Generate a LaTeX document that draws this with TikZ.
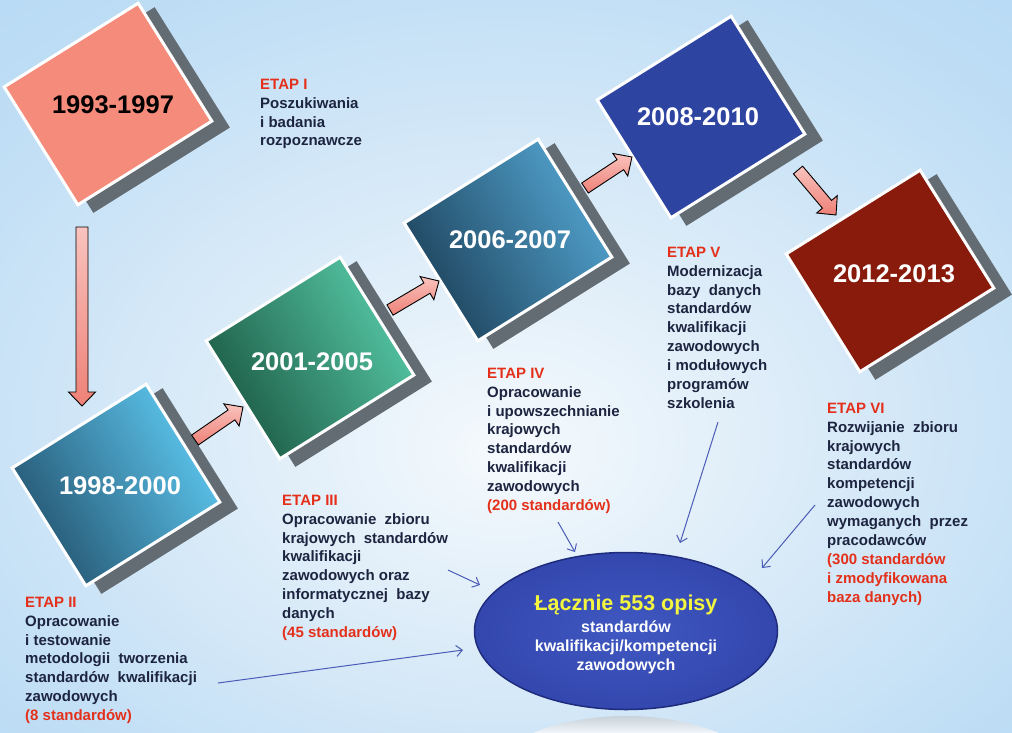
\documentclass[tikz,border=0pt]{standalone}
\usepackage{fontspec}
\setmainfont{Liberation Sans}
\usetikzlibrary{calc,shapes.geometric,arrows.meta}
\definecolor{etapred}{HTML}{E4301A}
\definecolor{navytext}{HTML}{1D2440}
\definecolor{shadowgray}{HTML}{646C73}
\definecolor{b1col}{HTML}{F58B7B}
\definecolor{b2dark}{HTML}{245470}
\definecolor{b2light}{HTML}{5DC7EF}
\definecolor{b3dark}{HTML}{1C5A45}
\definecolor{b3light}{HTML}{55C7A4}
\definecolor{b4dark}{HTML}{1D425B}
\definecolor{b4light}{HTML}{52A3CF}
\definecolor{b5col}{HTML}{2D44A1}
\definecolor{b6col}{HTML}{891B0C}
\definecolor{arrlight}{HTML}{F9C3BE}
\definecolor{arrdark}{HTML}{EE8177}
\definecolor{thinblue}{HTML}{4B5CB7}
\definecolor{ellin}{HTML}{4058C2}
\definecolor{ellout}{HTML}{26369A}
\definecolor{ellborder}{HTML}{1F2C7E}
\definecolor{yel}{HTML}{F3F53E}
\definecolor{bg0}{HTML}{F5FAFD}
\definecolor{bg1}{HTML}{E0EEF9}
\definecolor{bg2}{HTML}{BEDDF5}
\definecolor{bg3}{HTML}{A4D1F3}
\definecolor{reflc}{HTML}{C9D2DA}
\definecolor{reflb}{HTML}{EEF4F9}
\pgfdeclareradialshading{bgshade}{\pgfpoint{0bp}{-6bp}}{color(0bp)=(bg0); color(12bp)=(bg1); color(32bp)=(bg2); color(62bp)=(bg3)}
\pgfdeclareradialshading{ellshade}{\pgfpoint{0bp}{0bp}}{color(0bp)=(ellin); color(50bp)=(ellout)}
\newcommand\etred[1]{\textcolor{etapred}{#1}}
\begin{document}
\begin{tikzpicture}[x=1pt,y=-1pt,
  yearbox/.style={rectangle, rotate=32, minimum width=158pt, minimum height=139pt, draw=white, line width=3pt, inner sep=0pt},
  gradbox/.style 2 args={yearbox, top color=#1, bottom color=#2, shading angle=120},
  boxshadow/.style={rectangle, rotate=32, minimum width=161pt, minimum height=142pt, fill=shadowgray, inner sep=0pt},
  yeartext/.style={inner sep=0pt, text=white, font=\fontsize{25.5}{28}\selectfont\bfseries},
  etap/.style={anchor=north west, inner sep=0pt, align=left, text=navytext, font=\fontsize{15}{18.9}\selectfont\bfseries},
  thinarrow/.style={draw=thinblue, line width=1pt, -{Straight Barb[length=6pt,width=11pt]}},
  blockarrow/.style={draw=black, line width=0.9pt, top color=arrlight, bottom color=arrdark,
    to path={
      ($(\tikztostart)!6pt!90:(\tikztotarget)$)
      -- ($(\tikztotarget)!14pt!(\tikztostart)!6pt!-90:(\tikztostart)$)
      -- ($(\tikztotarget)!14pt!(\tikztostart)!13.5pt!-90:(\tikztostart)$)
      -- (\tikztotarget)
      -- ($(\tikztotarget)!14pt!(\tikztostart)!13.5pt!90:(\tikztostart)$)
      -- ($(\tikztotarget)!14pt!(\tikztostart)!6pt!90:(\tikztostart)$)
      -- ($(\tikztostart)!6pt!-90:(\tikztotarget)$)
      -- cycle}}
]
\useasboundingbox (0,0) rectangle (1012,732);
\shade[shading=bgshade] (0,0) rectangle (1012,732);
% reflection under the ellipse
\begin{scope}
  \clip (626,795) ellipse [x radius=150pt, y radius=79pt];
  \shade[top color=reflc, bottom color=reflb] (470,716) rectangle (785,732);
\end{scope}

% shadows
\node[boxshadow] (s1) at (124,110) {};
\node[boxshadow] (s2) at (132,491) {};
\node[boxshadow] (s3) at (326,364) {};
\node[boxshadow] (s4) at (524,246) {};
\node[boxshadow] (s5) at (717,123) {};
\node[boxshadow] (s6) at (906,277) {};

% boxes
\node[yearbox, fill=b1col] (b1) at (108,104) {};
\node[gradbox={b2dark}{b2light}] (b2) at (116,485) {};
\node[gradbox={b3dark}{b3light}] (b3) at (310,358) {};
\node[gradbox={b4dark}{b4light}] (b4) at (508,240) {};
\node[yearbox, fill=b5col] (b5) at (701,117) {};
\node[yearbox, fill=b6col] (b6) at (890,271) {};

\node[yeartext, text=black] (t1) at (113,105) {1993-1997};
\node[yeartext] (t2) at (120,486) {1998-2000};
\node[yeartext] (t3) at (312,362) {2001-2005};
\node[yeartext] (t4) at (510,240) {2006-2007};
\node[yeartext] (t5) at (698,117) {2008-2010};
\node[yeartext] (t6) at (894,274) {2012-2013};

% block arrows
\coordinate (a1s) at (82,227);  \coordinate (a1e) at (82,406);
\coordinate (a2s) at (195,440); \coordinate (a2e) at (243,407);
\coordinate (a3s) at (390,310); \coordinate (a3e) at (439,281);
\coordinate (a4s) at (585,188); \coordinate (a4e) at (632,157);
\coordinate (a5s) at (798,170); \coordinate (a5e) at (836,215);
\draw[blockarrow] (a1s) to (a1e);
\draw[blockarrow] (a2s) to (a2e);
\draw[blockarrow] (a3s) to (a3e);
\draw[blockarrow] (a4s) to (a4e);
\draw[blockarrow] (a5s) to (a5e);

% stage texts
\node[etap] (e1) at (260,77) {\rule{0pt}{12pt}\etred{ETAP I}\\Poszukiwania\\i badania\\rozpoznawcze};
\node[etap] (e2) at (25,595) {\rule{0pt}{12pt}\etred{ETAP II}\\Opracowanie\\i testowanie\\metodologii\ \ tworzenia\\standardów\ \ kwalifikacji\\zawodowych\\\etred{(8 standardów)}};
\node[etap] (e3) at (282,493) {\rule{0pt}{12pt}\etred{ETAP III}\\Opracowanie\ \ zbioru\\krajowych\ \ standardów\\kwalifikacji\\zawodowych oraz\\informatycznej\ \ bazy\\danych\\\etred{(45 standardów)}};
\node[etap] (e4) at (487,366) {\rule{0pt}{12pt}\etred{ETAP IV}\\Opracowanie\\i upowszechnianie\\krajowych\\standardów\\kwalifikacji\\zawodowych\\\etred{(200 standardów)}};
\node[etap] (e5) at (667,245) {\rule{0pt}{12pt}\etred{ETAP V}\\Modernizacja\\bazy\ \ danych\\standardów\\kwalifikacji\\zawodowych\\i modułowych\\programów\\szkolenia};
\node[etap] (e6) at (827,401) {\rule{0pt}{12pt}\etred{ETAP VI}\\Rozwijanie\ \ zbioru\\krajowych\\standardów\\kompetencji\\zawodowych\\wymaganych\ \ przez\\pracodawców\\\etred{(300 standardów}\\\etred{i zmodyfikowana}\\\etred{baza danych)}};

% thin arrows
\coordinate (c2s) at (218,683); \coordinate (c2e) at (463,650);
\coordinate (c3s) at (448,570); \coordinate (c3e) at (480,585);
\coordinate (c4s) at (558,522); \coordinate (c4e) at (575,552);
\coordinate (c5s) at (718,422); \coordinate (c5e) at (680,543);
\coordinate (c6s) at (815,505); \coordinate (c6e) at (762,568);
\draw[thinarrow] (c2s) -- (c2e);
\draw[thinarrow] (c3s) -- (c3e);
\draw[thinarrow] (c4s) -- (c4e);
\draw[thinarrow] (c5s) -- (c5e);
\draw[thinarrow] (c6s) -- (c6e);

% summary ellipse
\node[ellipse, shade, shading=ellshade, draw=ellborder, line width=1.5pt,
  minimum width=303pt, minimum height=157pt, inner sep=0pt, align=center,
  text=white, font=\fontsize{16}{19}\selectfont\bfseries] (sum) at (626,631)
  {{\fontsize{21.5}{22}\selectfont\color{yel}\rule{0pt}{21.7pt}Łącznie 553 opisy}\\[3pt]standardów\\kwalifikacji/kompetencji\\zawodowych};
\end{tikzpicture}
\end{document}
